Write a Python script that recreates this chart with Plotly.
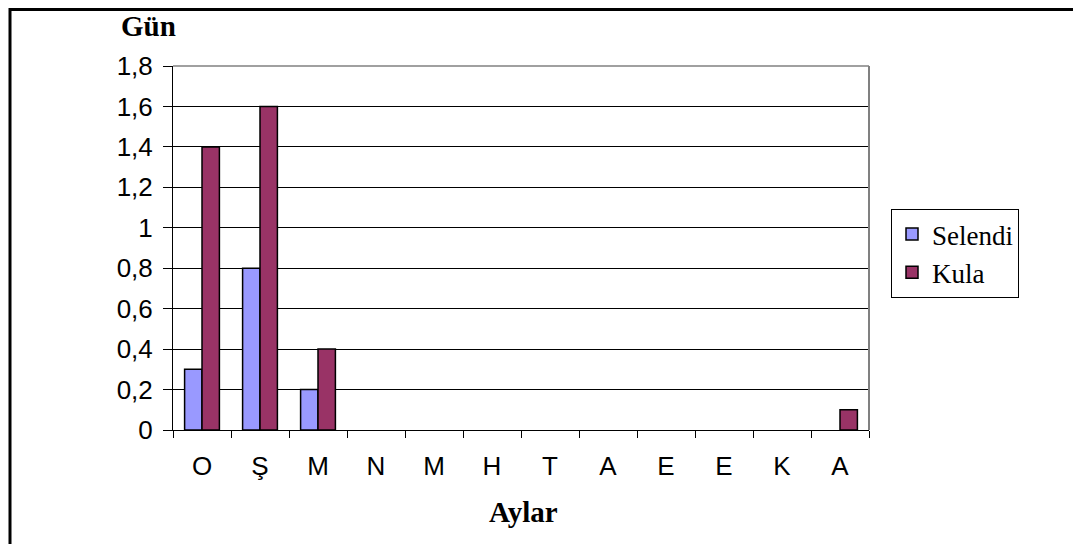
import plotly.graph_objects as go

months = ["Ocak", "Şubat", "Mart", "Nisan", "Mayıs", "Haziran",
          "Temmuz", "Ağustos", "Eylül", "Ekim", "Kasım", "Aralık"]
month_letters = ["O", "Ş", "M", "N", "M", "H", "T", "A", "E", "E", "K", "A"]
selendi = [0.3, 0.8, 0.2, 0, 0, 0, 0, 0, 0, 0, 0, 0]
kula = [1.4, 1.6, 0.4, 0, 0, 0, 0, 0, 0, 0, 0, 0.1]

# page body has an 8px margin, so size the figure to fit the window
OFF = 8
W, H = 1081 - OFF, 544 - OFF
# plot area in page pixels: x 173..869, y 66..430
L, T = 173 - OFF, 66 - OFF
R, B = W - (869 - OFF), H - (430 - OFF)
pw, ph = W - L - R, H - T - B


def px_x(p):
    return (p - OFF - L) / pw


def px_y(p):
    return (H - B - (p - OFF)) / ph


def outline(vals):
    # no outline on empty bars (Excel draws nothing there)
    return [1.5 if v else 0 for v in vals]


fig = go.Figure()
fig.add_trace(go.Bar(x=months, y=selendi, name="Selendi",
                     marker=dict(color="#9999FF",
                                 line=dict(color="black", width=outline(selendi)))))
fig.add_trace(go.Bar(x=months, y=kula, name="Kula",
                     marker=dict(color="#993366",
                                 line=dict(color="black", width=outline(kula)))))

fig.update_layout(
    width=W, height=H,
    margin=dict(l=L, r=R, t=T, b=B, autoexpand=False),
    paper_bgcolor="white", plot_bgcolor="white",
    separators=", ",
    barmode="group", bargap=0.4, bargroupgap=0,
    font=dict(family="Liberation Sans", size=26, color="black"),
    legend=dict(x=px_x(891), y=px_y(209), xanchor="left", yanchor="top",
                bgcolor="white", bordercolor="black", borderwidth=1,
                font=dict(family="Liberation Serif", size=27),
                itemwidth=30, tracegroupgap=0),
    showlegend=True,
)

fig.update_xaxes(
    type="category", tickvals=months, ticktext=month_letters,
    tickson="boundaries", ticks="outside", ticklen=7, tickcolor="black",
    showline=True, linecolor="black", linewidth=1,
    showgrid=False, ticklabelstandoff=13,
    tickfont=dict(family="Liberation Sans", size=26),
)
fig.update_yaxes(
    range=[0, 1.8], dtick=0.2, tick0=0,
    ticks="outside", ticklen=9, tickcolor="black",
    showline=True, linecolor="black", linewidth=1,
    showgrid=True, gridcolor="black", gridwidth=1,
    zeroline=False, ticklabelstandoff=5,
    tickfont=dict(family="Liberation Sans", size=26),
)

# plot area border (grey) on top and right
fig.add_shape(type="line", xref="paper", yref="paper", x0=0, x1=1, y0=1, y1=1,
              line=dict(color="#808080", width=1.5), layer="above")
fig.add_shape(type="line", xref="paper", yref="paper", x0=1, x1=1, y0=0, y1=1,
              line=dict(color="#808080", width=2), layer="above")

# outer chart frame (left and top edges visible)
fig.add_shape(type="rect", xref="paper", yref="paper",
              x0=px_x(10), x1=px_x(1100), y0=px_y(9.5), y1=px_y(580),
              line=dict(color="black", width=3), layer="above")

fig.add_annotation(text="<b>Gün</b>", xref="paper", yref="paper",
                   x=px_x(148), y=px_y(26), xanchor="center", yanchor="middle",
                   showarrow=False, font=dict(family="Liberation Serif", size=29))
fig.add_annotation(text="<b>Aylar</b>", xref="paper", yref="paper",
                   x=px_x(523), y=px_y(512), xanchor="center", yanchor="middle",
                   showarrow=False, font=dict(family="Liberation Serif", size=29))

fig.write_html("out.html")
